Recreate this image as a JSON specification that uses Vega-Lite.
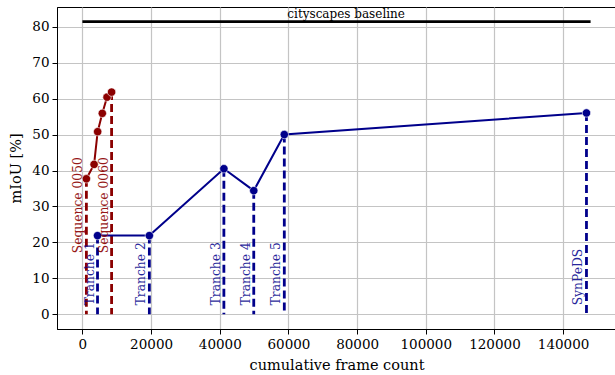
{
  "$schema": "https://vega.github.io/schema/vega-lite/v6.json",
  "width": 559,
  "height": 322,
  "autosize": {"type": "none"},
  "padding": {"left": 57, "top": 7, "right": 0, "bottom": 46},
  "background": "white",
  "config": {
    "font": "DejaVu Serif",
    "view": {"stroke": "black", "strokeWidth": 1},
    "axis": {
      "domainColor": "black",
      "tickColor": "black",
      "tickSize": 5,
      "labelColor": "black",
      "titleColor": "black",
      "labelFontSize": 13.5,
      "titleFontSize": 14.5,
      "titleFontWeight": "normal",
      "labelPadding": 3,
      "gridColor": "#c4c4c4",
      "gridWidth": 1.2
    }
  },
  "datasets": {
    "points": [
      {"series": "sequence", "label": "Sequence 0050", "frames": 1160, "miou": 37.7, "marked": true},
      {"series": "sequence", "label": "", "frames": 3400, "miou": 41.7, "marked": false},
      {"series": "sequence", "label": "", "frames": 4440, "miou": 50.8, "marked": false},
      {"series": "sequence", "label": "", "frames": 5800, "miou": 55.9, "marked": false},
      {"series": "sequence", "label": "", "frames": 7170, "miou": 60.4, "marked": false},
      {"series": "sequence", "label": "Sequence 0060", "frames": 8500, "miou": 61.8, "marked": true},
      {"series": "tranche", "label": "Tranche 1", "frames": 4400, "miou": 21.9, "marked": true},
      {"series": "tranche", "label": "Tranche 2", "frames": 19500, "miou": 21.9, "marked": true},
      {"series": "tranche", "label": "Tranche 3", "frames": 41200, "miou": 40.5, "marked": true},
      {"series": "tranche", "label": "Tranche 4", "frames": 49900, "miou": 34.4, "marked": true},
      {"series": "tranche", "label": "Tranche 5", "frames": 58800, "miou": 50.0, "marked": true},
      {"series": "tranche", "label": "SynPeDS", "frames": 146800, "miou": 56.0, "marked": true}
    ],
    "baseline": [
      {"start": 0, "end": 148000, "mid": 76800, "miou": 81.4, "label": "cityscapes baseline"}
    ]
  },
  "layer": [
    {
      "data": {"name": "baseline"},
      "mark": {"type": "rule", "color": "black", "strokeWidth": 2.8},
      "encoding": {
        "x": {"field": "start", "type": "quantitative", "scale": {"domain": [-7400, 155400], "nice": false, "zero": false},
              "axis": {"title": "cumulative frame count", "values": [0, 20000, 40000, 60000, 80000, 100000, 120000, 140000], "format": "d", "titlePadding": 8}},
        "x2": {"field": "end"},
        "y": {"field": "miou", "type": "quantitative", "scale": {"domain": [-4.07, 85.47], "nice": false, "zero": false},
              "axis": {"title": "mIoU [%]", "values": [0, 10, 20, 30, 40, 50, 60, 70, 80], "titlePadding": 8}}
      }
    },
    {
      "data": {"name": "baseline"},
      "mark": {"type": "text", "fontSize": 12, "baseline": "bottom", "dy": -1, "color": "black"},
      "encoding": {
        "x": {"field": "mid", "type": "quantitative"},
        "y": {"field": "miou", "type": "quantitative"},
        "text": {"field": "label"}
      }
    },
    {
      "data": {"name": "points"},
      "transform": [{"filter": "datum.marked"}],
      "mark": {"type": "rule", "strokeWidth": 2.8, "strokeDash": [8, 4]},
      "encoding": {
        "x": {"field": "frames", "type": "quantitative"},
        "y": {"field": "miou", "type": "quantitative"},
        "y2": {"datum": 0},
        "color": {"field": "series", "type": "nominal", "scale": {"domain": ["sequence", "tranche"], "range": ["#8b0000", "#00008b"]}, "legend": null}
      }
    },
    {
      "data": {"name": "points"},
      "mark": {"type": "line", "strokeWidth": 2},
      "encoding": {
        "x": {"field": "frames", "type": "quantitative"},
        "y": {"field": "miou", "type": "quantitative"},
        "order": {"field": "frames"},
        "color": {"field": "series", "type": "nominal", "legend": null}
      }
    },
    {
      "data": {"name": "points"},
      "mark": {"type": "point", "filled": true, "opacity": 1, "size": 70, "stroke": "white", "strokeWidth": 0.6},
      "encoding": {
        "x": {"field": "frames", "type": "quantitative"},
        "y": {"field": "miou", "type": "quantitative"},
        "fill": {"field": "series", "type": "nominal", "scale": {"domain": ["sequence", "tranche"], "range": ["#8b0000", "#00008b"]}, "legend": null}
      }
    },
    {
      "data": {"name": "points"},
      "transform": [{"filter": "datum.marked && datum.series == 'sequence'"}],
      "mark": {"type": "text", "angle": 270, "align": "left", "baseline": "bottom", "fontSize": 12.3, "opacity": 0.9, "dy": -1},
      "encoding": {
        "x": {"field": "frames", "type": "quantitative"},
        "y": {"datum": 17},
        "text": {"field": "label"},
        "color": {"field": "series", "type": "nominal", "legend": null}
      }
    },
    {
      "data": {"name": "points"},
      "transform": [{"filter": "datum.marked && datum.series == 'tranche'"}],
      "mark": {"type": "text", "angle": 270, "align": "left", "baseline": "bottom", "fontSize": 12.3, "opacity": 0.85, "dy": -1},
      "encoding": {
        "x": {"field": "frames", "type": "quantitative"},
        "y": {"datum": 2.5},
        "text": {"field": "label"},
        "color": {"field": "series", "type": "nominal", "legend": null}
      }
    }
  ]
}
